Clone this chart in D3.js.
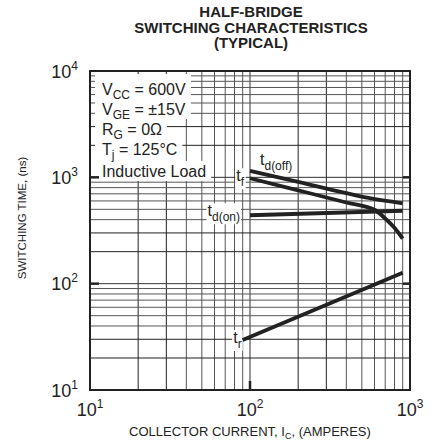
<!DOCTYPE html>
<html>
<head>
<meta charset="utf-8">
<script src="https://cdn.jsdelivr.net/npm/d3@7"></script>
<style>
body { margin: 0; background: #fff; }
text { font-family: "Liberation Sans", Arial, Helvetica, sans-serif; fill: #222; }
</style>
</head>
<body>
<script>
// curves (amperes, ns)
var tdOffCurrent = [100, 200, 400, 550, 900];
var tdOffTime = [1150, 905, 710, 640, 570];
var tfCurrent = [100, 200, 400, 600, 700, 800, 900];
var tfTime = [980, 755, 580, 495, 410, 335, 265];
var tdOnCurrent = [100, 900];
var tdOnTime = [440, 485];
var trCurrent = [90, 900];
var trTime = [29.5, 127];

var xDecades = [10, 100, 1000];
var yDecades = [10, 100, 1000, 10000];
var titleLines = ["HALF-BRIDGE", "SWITCHING CHARACTERISTICS", "(TYPICAL)"];
var legendRows = [["V", "CC", " = 600V"], ["V", "GE", " = \u00b115V"], ["R", "G", " = 0\u03a9"],
                  ["T", "j", " = 125\u00b0C"], ["Inductive Load", "", ""]];

var W = 437, H = 445;
var pL = 90, pR = 410, pT = 71, pB = 390;

var svg = d3.select("body").append("svg").attr("width", W).attr("height", H);

var x = d3.scaleLog().domain([10, 1000]).range([pL, pR]);
var y = d3.scaleLog().domain([10, 10000]).range([pB, pT]);

function mant(v) { return Math.round(v / Math.pow(10, Math.floor(Math.log10(v) + 1e-9))); }
function gridColor(v) {
    var m = mant(v);
    if (m == 1) return "#333";
    if (m == 2 || m == 3) return "#222";
    return "#555";
}

// grid
var grid = svg.append("g");
grid.selectAll(".vx").data(x.ticks()).enter().append("line")
    .attr("x1", d => x(d)).attr("x2", d => x(d))
    .attr("y1", pT).attr("y2", pB)
    .attr("stroke", gridColor).attr("stroke-width", 1);
grid.selectAll(".hy").data(y.ticks()).enter().append("line")
    .attr("y1", d => y(d)).attr("y2", d => y(d))
    .attr("x1", pL).attr("x2", pR)
    .attr("stroke", gridColor).attr("stroke-width", 1);

var bgLayer = svg.append("g");
var curveLayer = svg.append("g");
var textLayer = svg.append("g");

// legend
var rowBase = [95, 115, 135, 155, 177];
legendRows.forEach(function(r, i) {
    var t = textLayer.append("text").attr("x", 102).attr("y", rowBase[i]).style("font-size", "16px");
    t.append("tspan").text(r[0]);
    if (r[1]) {
        t.append("tspan").text(r[1]).attr("dy", 4).style("font-size", "12px");
        t.append("tspan").text(r[2]).attr("dy", -4);
    }
    var bb = t.node().getBBox();
    var y0 = i == 0 ? pT + 3 : rowBase[i] - 16;
    var y1 = i == legendRows.length - 1 ? rowBase[i] + 4 : rowBase[i + 1] - 16;
    bgLayer.append("rect").attr("x", pL + 5).attr("y", y0)
        .attr("width", bb.x + bb.width + 5 - (pL + 5)).attr("height", y1 - y0)
        .attr("fill", "#fff");
});

// curve labels
function curveLabel(main, sub, px, py, anchor) {
    var t = textLayer.append("text").attr("x", px).attr("y", py)
        .attr("text-anchor", anchor).style("font-size", "16px");
    t.append("tspan").text(main);
    t.append("tspan").text(sub).attr("dy", 5).style("font-size", "12px");
    var bb = t.node().getBBox();
    bgLayer.append("rect").attr("x", bb.x - 1).attr("y", bb.y + 1)
        .attr("width", bb.width + 2).attr("height", bb.height - 1).attr("fill", "#fff");
}
curveLabel("t", "d(off)", x(tdOffCurrent[0]) + 10, y(tdOffTime[0]) - 6, "start");
curveLabel("t", "f", x(tfCurrent[0]) - 6, y(tfTime[0]) + 3, "end");
curveLabel("t", "d(on)", x(tdOnCurrent[0]) - 10, y(tdOnTime[0]) + 1, "end");
curveLabel("t", "r", x(trCurrent[0]) - 1, y(trTime[0]) + 3, "end");

// curves
var line = d3.line().x(d => x(d[0])).y(d => y(d[1])).curve(d3.curveMonotoneX);
[[tdOffCurrent, tdOffTime], [tfCurrent, tfTime], [tdOnCurrent, tdOnTime], [trCurrent, trTime]]
    .forEach(function(s) {
        curveLayer.append("path").datum(d3.zip(s[0], s[1]))
            .attr("d", line).attr("fill", "none")
            .attr("stroke", "#222").attr("stroke-width", 3.8);
    });

// frame and decade ticks
svg.append("rect").attr("x", pL).attr("y", pT)
    .attr("width", pR - pL).attr("height", pB - pT)
    .attr("fill", "none").attr("stroke", "#222").attr("stroke-width", 2);
var ticks = svg.append("g").attr("stroke", "#222").attr("stroke-width", 2.5);
ticks.selectAll(".ty").data(yDecades.slice(1, -1)).enter().append("line")
    .attr("x1", pL).attr("x2", pL + 9).attr("y1", d => y(d)).attr("y2", d => y(d));
ticks.selectAll(".ty2").data(yDecades.slice(1, -1)).enter().append("line")
    .attr("x1", pR - 7).attr("x2", pR).attr("y1", d => y(d)).attr("y2", d => y(d));
ticks.selectAll(".tx").data(xDecades.slice(1, -1)).enter().append("line")
    .attr("x1", d => x(d)).attr("x2", d => x(d)).attr("y1", pB).attr("y2", pB - 9);

// axis labels
function power(sel, exp) {
    sel.append("tspan").text("10");
    sel.append("tspan").text(exp).attr("dy", -8).style("font-size", "12px");
}
yDecades.forEach(function(d) {
    var t = svg.append("text").attr("x", pL - 12).attr("y", y(d) + 6.5)
        .attr("text-anchor", "end").style("font-size", "18px");
    power(t, Math.round(Math.log10(d)));
});
xDecades.forEach(function(d) {
    var t = svg.append("text").attr("x", x(d)).attr("y", 416)
        .attr("text-anchor", "middle").style("font-size", "18px");
    power(t, Math.round(Math.log10(d)));
});

var xt = svg.append("text").attr("x", (pL + pR) / 2).attr("y", 436)
    .attr("text-anchor", "middle").style("font-size", "13px");
xt.append("tspan").text("COLLECTOR CURRENT, I");
xt.append("tspan").text("C").attr("dy", 3).style("font-size", "9px");
xt.append("tspan").text(", (AMPERES)").attr("dy", -3);

svg.append("text").attr("transform", "translate(26,218) rotate(-90)")
    .attr("text-anchor", "middle").style("font-size", "11.5px")
    .text("SWITCHING TIME, (ns)");

svg.selectAll(".title").data(titleLines).enter().append("text")
    .attr("x", 251).attr("y", (d, i) => 17 + i * 15.5)
    .attr("text-anchor", "middle")
    .style("font-size", "15px").style("font-weight", "bold")
    .text(d => d);
</script>
</body>
</html>
